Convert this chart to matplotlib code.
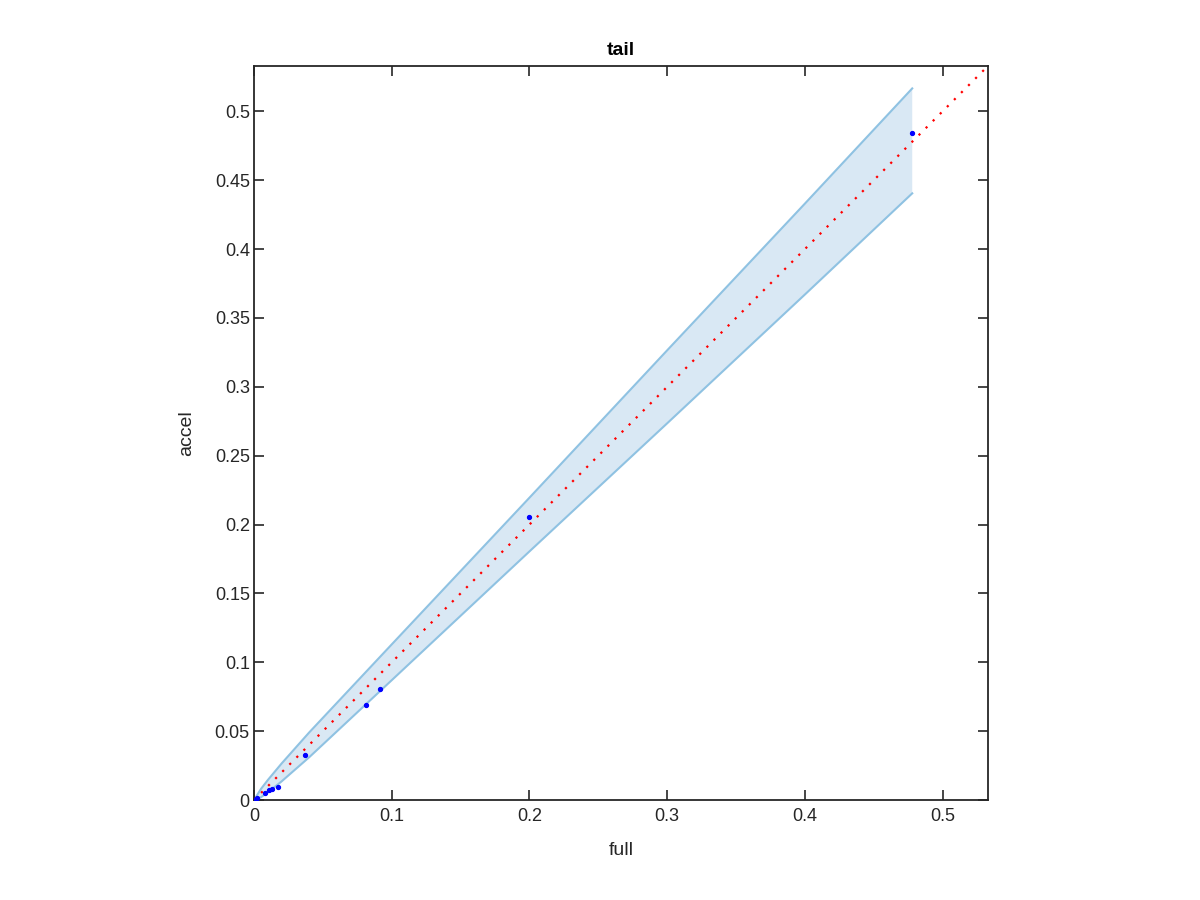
import matplotlib
matplotlib.use("Agg")
import matplotlib.pyplot as plt
import numpy as np

plt.rcParams['font.family'] = ['Liberation Sans', 'DejaVu Sans']

# Scatter points (full vs accel)
full_vals = [0.478, 0.200, 0.0917, 0.0815, 0.0371, 0.0172, 0.0133, 0.0111, 0.008, 0.0019, 0.0002, 0.0]
accel_vals = [0.484, 0.2054, 0.0806, 0.0689, 0.0327, 0.0094, 0.008, 0.007, 0.0049, 0.0012, 0.0003, 0.0]

# Confidence band
band_x = [0.0, 0.005, 0.01, 0.02, 0.04, 0.07, 0.1, 0.2, 0.3, 0.4, 0.478]
band_upper = [0.0, 0.008, 0.0145, 0.0265, 0.049, 0.081, 0.113, 0.2195, 0.3265, 0.433, 0.5167]
band_lower = [0.0, 0.002, 0.0055, 0.0135, 0.031, 0.059, 0.087, 0.1805, 0.2735, 0.367, 0.4405]

lim = 0.533

fig = plt.figure(figsize=(12, 9), dpi=100)
ax = fig.add_axes([0.2117, 0.1111, 0.6116, 0.8156])

ax.fill_between(band_x, band_lower, band_upper, facecolor='#d9e8f4', edgecolor='none', zorder=1)
ax.plot(band_x, band_upper, color='#8fc2e2', lw=1.5, zorder=2)
ax.plot(band_x, band_lower, color='#8fc2e2', lw=1.5, zorder=2)
ax.plot([0, lim], [0, lim], color='red', ls=(0, (1, 3.5)), lw=1.6, zorder=3)
ax.plot(full_vals, accel_vals, ls='none', marker='o', ms=2.8, color='blue', zorder=4)

ax.set_xlim(0, lim)
ax.set_ylim(0, lim)
ax.set_xticks([0, 0.1, 0.2, 0.3, 0.4, 0.5])
ax.set_xticklabels(['0', '0.1', '0.2', '0.3', '0.4', '0.5'])
yt = [0, 0.05, 0.1, 0.15, 0.2, 0.25, 0.3, 0.35, 0.4, 0.45, 0.5]
ax.set_yticks(yt)
ax.set_yticklabels(['0', '0.05', '0.1', '0.15', '0.2', '0.25', '0.3', '0.35', '0.4', '0.45', '0.5'])

for s in ax.spines.values():
    s.set_color('#262626')
    s.set_linewidth(1.3)
ax.tick_params(direction='in', length=7, width=1.2, color='#262626', labelcolor='#262626',
               labelsize=13, top=True, right=True)
ax.tick_params(axis='y', pad=3)
ax.tick_params(axis='x', pad=6)

ax.set_xlabel('full', fontsize=14, color='#262626', labelpad=12)
ax.set_ylabel('accel', fontsize=14, color='#262626', labelpad=14)
ax.set_title('tail', fontsize=14, fontweight='bold', color='black', pad=8)

fig.savefig('out.png', dpi=100)
